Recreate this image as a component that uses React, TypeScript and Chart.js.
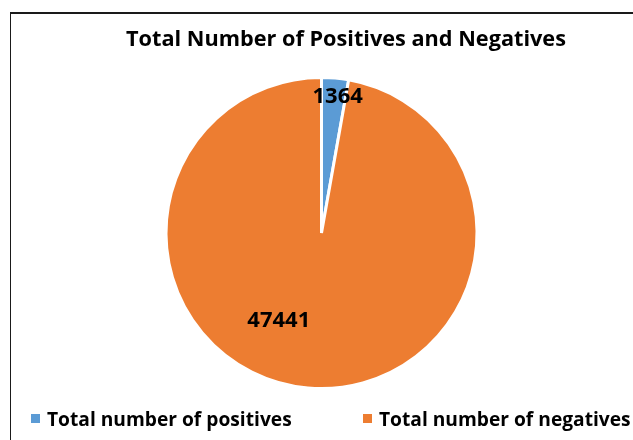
import React, { useEffect, useRef } from "react";
import { Chart, registerables } from "chart.js";

Chart.register(...registerables);

const chartTitle = "Total Number of Positives and Negatives";
const categories = ["Total number of positives", "Total number of negatives"];
const counts = [1364, 47441];
const sliceColors = ["#5B9BD5", "#ED7D31"];

// label placement inside each slice: fraction along the slice angle, fraction of radius
const labelPlacement = [
  { along: 0.67, radius: 0.885 },
  { along: 0.56, radius: 0.626 },
];

const FONT = "'Open Sans', 'DejaVu Sans', sans-serif";

const labelPlugin = {
  id: "sliceLabels",
  afterDatasetsDraw(chart: any) {
    const ctx = chart.ctx;
    const meta = chart.getDatasetMeta(0);
    const data = chart.data.datasets[0].data;
    ctx.save();
    ctx.font = `bold 22px ${FONT}`;
    ctx.fillStyle = "#000";
    ctx.textAlign = "center";
    ctx.textBaseline = "middle";
    meta.data.forEach((arc: any, i: number) => {
      const p = arc.getProps(["x", "y", "startAngle", "endAngle", "outerRadius"], true);
      const pl = labelPlacement[i];
      const a = p.startAngle + (p.endAngle - p.startAngle) * pl.along;
      const r = p.outerRadius * pl.radius;
      ctx.fillText(String(data[i]), p.x + Math.cos(a) * r, p.y + Math.sin(a) * r);
    });
    ctx.restore();
  },
};

export default function App() {
  const canvasRef = useRef<HTMLCanvasElement>(null);

  useEffect(() => {
    if (!canvasRef.current) return;
    const chart = new Chart(canvasRef.current, {
      type: "pie",
      data: {
        labels: categories,
        datasets: [
          {
            data: counts,
            backgroundColor: sliceColors,
            borderColor: "#ffffff",
            borderWidth: 3,
          },
        ],
      },
      options: {
        responsive: false,
        animation: false,
        layout: { padding: { left: 164.5, right: 154.5, top: 76, bottom: 50 } },
        plugins: {
          legend: { display: false },
          title: { display: false },
          tooltip: { enabled: false },
        },
      },
      plugins: [labelPlugin],
    });
    return () => chart.destroy();
  }, []);

  return (
    <div
      style={{
        position: "fixed",
        left: 0,
        top: 0,
        width: 633,
        height: 440,
        overflow: "hidden",
        background: "#fff",
        fontFamily: FONT,
      }}
    >
      <div
        style={{
          position: "absolute",
          left: 10,
          top: 12,
          width: 700,
          height: 500,
          borderTop: "2px solid #1a1a1a",
          borderLeft: "1.5px solid #1a1a1a",
        }}
      />
      <canvas
        ref={canvasRef}
        width={633}
        height={440}
        style={{ position: "absolute", left: 0, top: 0 }}
      />
      <div
        style={{
          position: "absolute",
          left: 0,
          width: 692,
          top: 25.5,
          lineHeight: "24px",
          textAlign: "center",
          fontWeight: 700,
          fontSize: 21.7,
          color: "#000",
          whiteSpace: "nowrap",
        }}
      >
        {chartTitle}
      </div>
      {categories.map((c, i) => (
        <div
          key={c}
          style={{
            position: "absolute",
            left: i === 0 ? 31 : 363,
            top: 406.5,
            height: 24,
            display: "flex",
            alignItems: "center",
            whiteSpace: "nowrap",
          }}
        >
          <span
            style={{
              display: "inline-block",
              width: 9,
              height: 9,
              background: sliceColors[i],
              marginRight: 7,
            }}
          />
          <span style={{ fontWeight: 700, fontSize: 19.2, lineHeight: "24px", color: "#000" }}>
            {c}
          </span>
        </div>
      ))}
    </div>
  );
}
